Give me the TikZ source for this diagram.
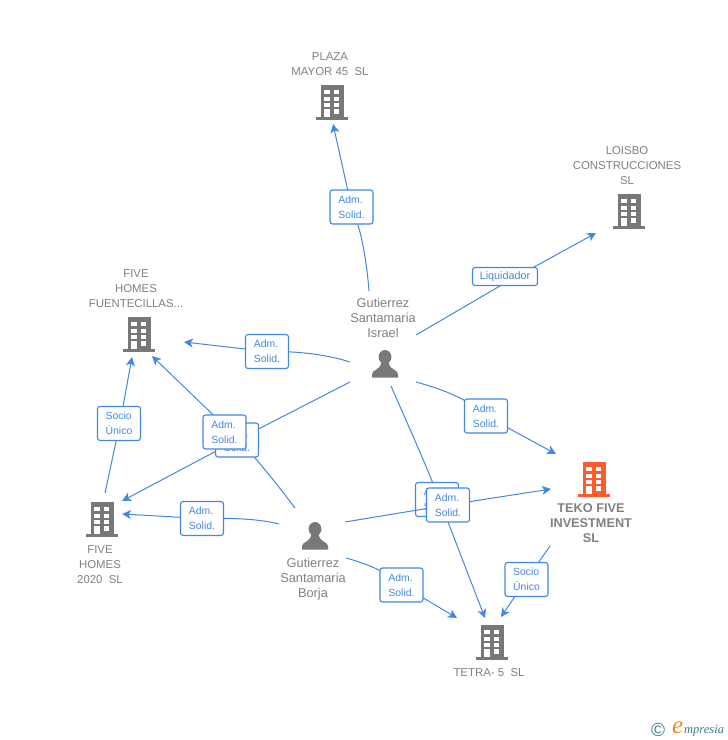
\documentclass[tikz,border=0pt]{standalone}
\usepackage{fontspec}
\setmainfont{Liberation Sans}
\newfontfamily\logofont{Liberation Serif}
\usetikzlibrary{arrows.meta,backgrounds}
\pgfdeclarelayer{lines}
\pgfdeclarelayer{top}
\pgfsetlayers{background,main,lines,top}
\definecolor{linkblue}{HTML}{4287E3}
\definecolor{icongray}{HTML}{787878}
\definecolor{labelgray}{HTML}{808080}
\definecolor{tekored}{HTML}{FF5A2C}
\definecolor{logoteal}{HTML}{3B7C94}
\definecolor{logoorange}{HTML}{F08A1D}
\tikzset{
  x=1pt,y=-1pt,
  rel/.style={draw=linkblue,line width=1.1pt,fill=white,rounded corners=2.5pt,text=linkblue,
    font=\fontsize{10.4}{15}\selectfont,align=left,inner sep=0pt,minimum width=43pt,minimum height=34pt},
  relwide/.style={rel,font=\fontsize{10.8}{15}\selectfont,minimum width=65pt,minimum height=18pt},
  link/.style={draw=linkblue,line width=1pt},
  linkto/.style={link,-{Stealth[length=9pt,width=9pt,inset=2.5pt]}},
  lab/.style={text=labelgray,font=\fontsize{11.4}{15}\selectfont,align=center,inner sep=0pt},
  labb/.style={lab,font=\fontsize{12.7}{15}\selectfont\bfseries},
  labp/.style={lab,font=\fontsize{12.8}{15}\selectfont},
  building/.pic={
    \fill[pic actions] (-10.5,0) rectangle (12.5,32);
    \fill[pic actions] (-15,31.5) rectangle (17,35);
    \foreach \yy/\hh in {5/3.7,11.6/4,18.3/3.7} {
      \fill[white] (-6.8,\yy) rectangle (-1.5,\yy+\hh);
      \fill[white] (3.1,\yy) rectangle (8.4,\yy+\hh);
    }
    \fill[white] (-6.8,24.2) rectangle (-1.5,31.5);
    \fill[white] (3.1,24.2) rectangle (8.4,28.7);
  },
  person/.pic={
    \fill[pic actions] (0,-8) ellipse (6.4 and 7);
    \fill[pic actions] (-13,12.5) -- (-13,9) .. controls (-13,5) and (-5,5) .. (-3.8,-2)
      -- (3.8,-2) .. controls (5,5) and (13,5) .. (13,9) -- (13,12.5) -- cycle;
  }
}
\begin{document}
\begin{tikzpicture}
\useasboundingbox (0,0) rectangle (728,740);
% icons
\pic[fill=icongray] at (331,85) {building};
\pic[fill=icongray] at (628,194) {building};
\pic[fill=icongray] at (138,317) {building};
\pic[fill=icongray] at (101,502) {building};
\pic[fill=tekored] at (593,462) {building};
\pic[fill=icongray] at (491,625) {building};
\pic[fill=icongray] at (385,365) {person};
\pic[fill=icongray] at (315,537) {person};
% labels
\node[lab] (plaza) at (330,64) {PLAZA\\MAYOR 45\ \ SL};
\node[lab] (loisbo) at (627,166) {LOISBO\\CONSTRUCCIONES\\SL};
\node[lab] (fuent) at (136,289) {FIVE\\HOMES\\FUENTECILLAS...};
\node[lab] (homes) at (100,565) {FIVE\\HOMES\\2020\ \ SL};
\node[labb] (teko) at (591,523) {TEKO FIVE\\INVESTMENT\\SL};
\node[lab] (tetra) at (489,673) {TETRA- 5\ \ SL};
\node[labp] (israel) at (383,317.5) {Gutierrez\\Santamaria\\Israel};
\node[labp] (borja) at (313,579.5) {Gutierrez\\Santamaria\\Borja};
% relation boxes
\node[rel] (r1) at (351.5,207) {Adm.\\Solid.};
\node[relwide] (r2) at (505,276.5) {Liquidador};
\node[rel] (r3) at (267,351.5) {Adm.\\Solid.};
\node[rel] (r4) at (237,440) {Adm.\\Solid.};
\node[rel] (r5) at (224.5,432) {Adm.\\Solid.};
\node[rel] (r6) at (119,423.5) {Socio\\Único};
\node[rel] (r7) at (202,518.5) {Adm.\\Solid.};
\node[rel] (r8) at (486,416) {Adm.\\Solid.};
\node[rel] (r9) at (437,499.5) {Adm.\\Solid.};
\begin{pgfonlayer}{top}
\node[rel] (r10) at (448,505) {Adm.\\Solid.};
\end{pgfonlayer}
\node[rel] (r11) at (526.5,579.5) {Socio\\Único};
\node[rel] (r12) at (401.5,585) {Adm.\\Solid.};
% free ends
\coordinate (a1) at (369,291); \coordinate (b1) at (333,124);
\coordinate (a2) at (416,335); \coordinate (b2) at (596,233); \coordinate (m2) at (505,283);
\coordinate (a3) at (350,362); \coordinate (b3) at (184,342);
\coordinate (a4) at (350,382); \coordinate (b4) at (122,501);
\coordinate (a5) at (295,508); \coordinate (b5) at (152,356); \coordinate (m5) at (233,434);
\coordinate (a6) at (105,493); \coordinate (b6) at (132,357); \coordinate (m6) at (120,423);
\coordinate (a7) at (279,524); \coordinate (b7) at (122,514);
\coordinate (a8) at (416,382); \coordinate (b8) at (556,454);
\coordinate (a9) at (391,386); \coordinate (b9) at (485,618); \coordinate (m9) at (439.5,500);
\coordinate (a10) at (345,522); \coordinate (b10) at (551,489);
\coordinate (a11) at (550,546); \coordinate (b11) at (501,617);
\coordinate (a12) at (346,558); \coordinate (b12) at (457,618);
\begin{scope}[on background layer]
\draw[link] (a1) .. controls (367,265) and (362,230) .. (r1.center);
\draw[linkto] (r1.center) -- (b1);
\draw[link] (a2) -- (m2);
\draw[linkto] (m2) -- (b2);
\draw[link] (a3) .. controls (325,354) and (295,351) .. (r3.center);
\draw[linkto] (r3.center) -- (b3);
\draw[link] (a4) -- (r4.center);
\draw[linkto] (r4.center) -- (b4);
\draw[link] (a5) .. controls (280,488) and (255,456) .. (m5);
\draw[linkto] (m5) -- (b5);
\draw[link] (a6) -- (m6);
\draw[linkto] (m6) -- (b6);
\draw[link] (a7) .. controls (255,518) and (225,518) .. (r7.center);
\draw[linkto] (r7.center) -- (b7);
\draw[link] (a8) .. controls (445,390) and (470,400) .. (r8.center);
\draw[linkto] (r8.center) -- (b8);
\draw[link] (a9) .. controls (408,425) and (425,462) .. (m9);
\draw[linkto] (m9) -- (b9);
\draw[link] (a11) -- (r11.center);
\draw[linkto] (r11.center) -- (b11);
\draw[link] (a12) .. controls (375,566) and (390,575) .. (r12.center);
\draw[linkto] (r12.center) -- (b12);
\end{scope}
\begin{pgfonlayer}{lines}
\draw[link] (a10) -- (r10.center);
\draw[linkto] (r10.center) -- (b10);
\end{pgfonlayer}
% logo
\node[inner sep=0pt,text=logoteal,font=\fontsize{19}{19}\selectfont] (copy) at (658,729.5) {©};
\node[inner sep=0pt,anchor=base west,text=logoorange,font=\logofont\itshape\fontsize{25}{25}\selectfont] (elogo) at (672,733) {e};
\node[inner sep=0pt,anchor=base west,text=logoteal,font=\logofont\itshape\fontsize{12.5}{14}\selectfont] (mpresia) at (684,733) {mpresia};
\end{tikzpicture}
\end{document}
